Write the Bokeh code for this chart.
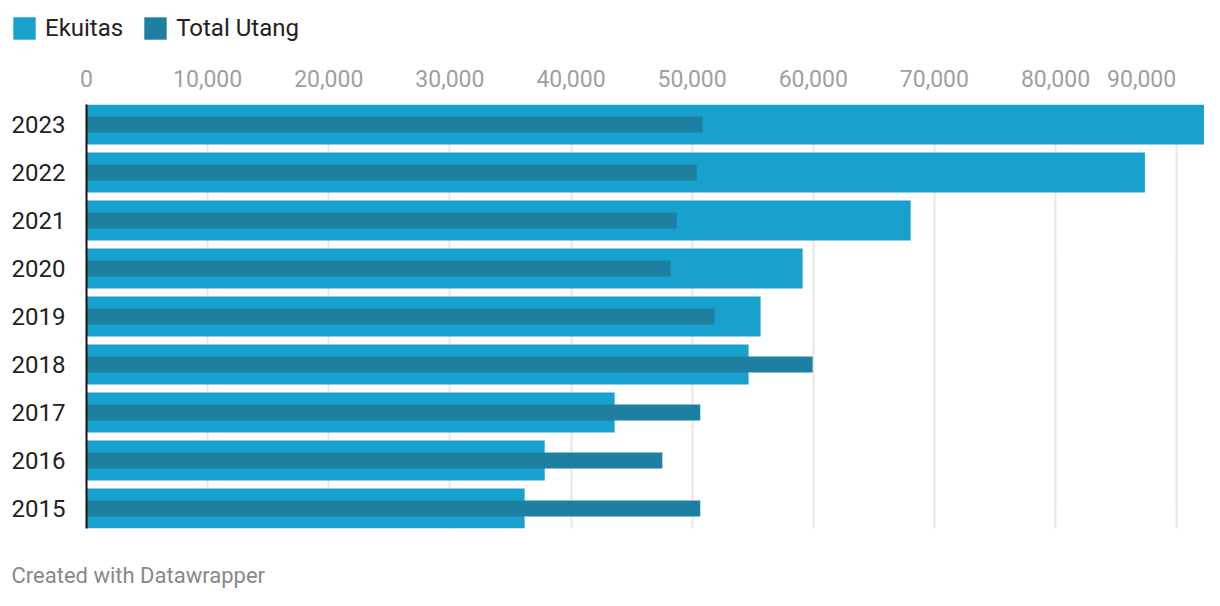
from bokeh.plotting import figure
from bokeh.layouts import column
from bokeh.models import (ColumnDataSource, FixedTicker, Range1d, Legend, LegendItem, Label)
from bokeh.embed import file_html
from bokeh.resources import INLINE

years = ["2015", "2016", "2017", "2018", "2019", "2020", "2021", "2022", "2023"]
ekuitas = [36170, 37830, 43600, 54660, 55650, 59120, 68040, 87380, 92640]
total_utang = [50670, 47540, 50670, 59950, 51850, 48220, 48720, 50370, 50850]
x_ticks = [0, 10000, 20000, 30000, 40000, 50000, 60000, 70000, 80000, 90000]
x_tick_labels = ["0", "10,000", "20,000", "30,000", "40,000", "50,000", "60,000", "70,000", "80,000", "90,000"]
x_max = 92300

C_EK = "#19a1cd"
C_UT = "#1e80a1"
FONT = "Roboto"
W = 1204

idx = list(range(len(years)))
src = ColumnDataSource(dict(y=idx, ek=ekuitas, ut=total_utang))

# ---------- legend strip ----------
top = figure(width=W, height=52, output_backend="svg", toolbar_location=None,
             x_range=Range1d(0, 1), y_range=Range1d(0, 1),
             x_axis_type=None, y_axis_type=None, frame_align=False,
             min_border_left=0, min_border_right=0, min_border_top=0, min_border_bottom=0)
top.outline_line_color = None
top.grid.visible = False
l1 = top.hbar(y="y", left=0, right="ek", height=1, source=src, color=C_EK, line_color=None, visible=False)
l2 = top.hbar(y="y", left=0, right="ut", height=1, source=src, color=C_UT, line_color=None, visible=False)
legend = Legend(items=[LegendItem(label="Ekuitas", renderers=[l1]),
                       LegendItem(label="Total Utang", renderers=[l2])],
                location=(10, 10), orientation="horizontal",
                background_fill_alpha=0, border_line_color=None,
                inactive_fill_alpha=0,
                padding=0, margin=0, glyph_width=28, glyph_height=28,
                label_standoff=7, spacing=18,
                label_text_font=FONT, label_text_font_size="24px", label_text_color="#222222")
top.add_layout(legend, "center")

# ---------- main chart ----------
row = 48.0
frame_w = W - 86
p = figure(width=W, height=498, output_backend="svg", toolbar_location=None,
           x_range=Range1d(0, x_max),
           y_range=Range1d(-0.5 + 4 / row, len(years) - 0.5 - 4 / row),
           x_axis_location="above",
           min_border_left=86, min_border_right=0, min_border_top=52, min_border_bottom=22)
p.outline_line_color = None

r1 = p.hbar(y="y", left=0, right="ek", height=40 / row, source=src, color=C_EK, line_color=None)
r2 = p.hbar(y="y", left=0, right="ut", height=16 / row, source=src, color=C_UT, line_color=None)

# x axis (top); the last label sits left of its grid line, as in the original
shift = 35 * x_max / frame_w
axis_ticks = x_ticks[:-1] + [x_ticks[-1] - shift]
xa = p.xaxis[0]
xa.ticker = FixedTicker(ticks=axis_ticks)
xa.major_label_overrides = {t: l for t, l in zip(axis_ticks, x_tick_labels)}
xa.axis_line_color = None
xa.major_tick_line_color = None
xa.minor_tick_line_color = None
xa.major_label_text_font = FONT
xa.major_label_text_font_size = "23px"
xa.major_label_text_color = "#a0a0a0"
xa.major_label_standoff = 12

p.xgrid.ticker = FixedTicker(ticks=x_ticks)
p.xgrid.grid_line_color = "#e6e6e6"
p.xgrid.grid_line_width = 2
p.ygrid.grid_line_color = None

# y axis
ya = p.yaxis[0]
ya.ticker = FixedTicker(ticks=idx)
ya.major_label_overrides = {i: y for i, y in zip(idx, years)}
ya.axis_line_color = "#111111"
ya.axis_line_width = 2
ya.major_tick_line_color = None
ya.minor_tick_line_color = None
ya.major_label_text_font = FONT
ya.major_label_text_font_size = "24px"
ya.major_label_text_color = "#222222"
ya.major_label_standoff = 15

# ---------- footer ----------
bot = figure(width=W, height=40, output_backend="svg", toolbar_location=None,
             x_range=Range1d(0, 1), y_range=Range1d(0, 1),
             x_axis_type=None, y_axis_type=None, frame_align=False,
             min_border_left=0, min_border_right=0, min_border_top=0, min_border_bottom=0)
bot.outline_line_color = None
bot.grid.visible = False
bot.add_layout(Label(x=11, y=15, x_units="screen", y_units="screen",
                     text="Created with Datawrapper", text_baseline="middle",
                     text_font=FONT, text_font_size="22px", text_color="#888888"))

layout = column(top, p, bot, spacing=0)
open("out.html", "w").write(file_html(layout, INLINE))
